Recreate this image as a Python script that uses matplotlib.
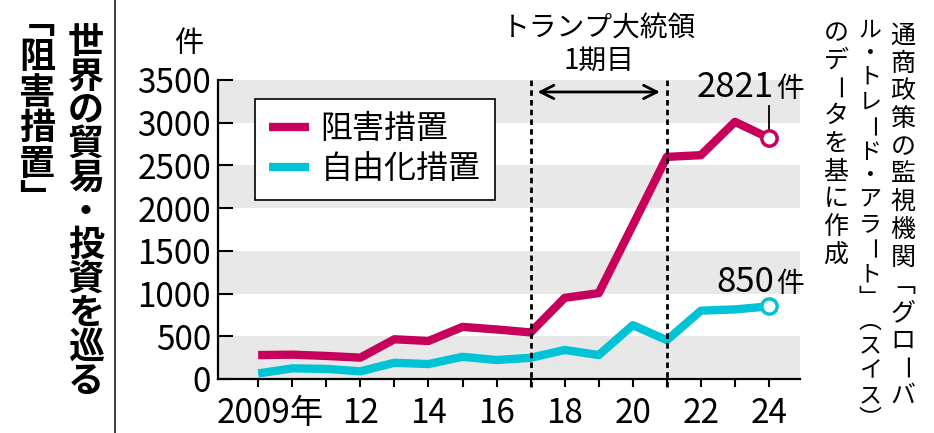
import numpy as np
import matplotlib.pyplot as plt
from matplotlib.lines import Line2D
from matplotlib.transforms import ScaledTranslation

plt.rcParams['font.family'] = ['Noto Sans CJK JP', 'DejaVu Sans']

# data
years = list(range(2009, 2025))
hindrance = [280, 285, 270, 250, 465, 445, 610, 580, 545, 950, 1005, 1800, 2600, 2620, 3010, 2821]
liberal = [65, 125, 118, 90, 190, 175, 260, 222, 248, 340, 280, 630, 455, 800, 815, 850]
tick_years = [2009, 2012, 2014, 2016, 2018, 2020, 2022, 2024]
tick_labels = ['2009年', '12', '14', '16', '18', '20', '22', '24']
y_ticks = [0, 500, 1000, 1500, 2000, 2500, 3000, 3500]
term = (2017, 2021)
series_names = ['阻害措置', '自由化措置']

title1 = '世界の貿易・投資を巡る'
title2 = '「阻害措置」'
source = ['通商政策の監視機関「グローバ', 'ル・トレード・アラート」（スイス）', 'のデータを基に作成']

RED = '#C6005B'
CYAN = '#00C4D6'
BAND = '#E8E8E8'

W, H = 934, 433
fig = plt.figure(figsize=(W / 100, H / 100), dpi=100)
ax = fig.add_axes([218 / W, 1 - 379 / H, (800 - 218) / W, (379 - 80) / H])
ax.set_xlim(2007.82, 2024.91)
ax.set_ylim(0, 3500)

for lo in range(0, 3500, 1000):
    ax.axhspan(lo, lo + 500, color=BAND, lw=0, zorder=0)

ax.plot(years, hindrance, color=RED, lw=6, solid_capstyle='butt', zorder=4, label=series_names[0])
ax.plot(years, liberal, color=CYAN, lw=6, solid_capstyle='butt', zorder=4, label=series_names[1])
for s, c in ((hindrance, RED), (liberal, CYAN)):
    ax.plot(years[-1], s[-1], 'o', ms=11, mfc='white', mec=c, mew=2.5, zorder=6)

# Trump first term
for t in term:
    ax.plot([t, t], [-95, 3520], color='black', lw=2, ls=(0, (2, 1.5)), clip_on=False, zorder=5)
ax.annotate('', xy=(term[0] + 0.12, 3360), xytext=(term[1] - 0.12, 3360),
            arrowprops=dict(arrowstyle='<->', color='black', lw=2, mutation_scale=24),
            annotation_clip=False)
mid = sum(term) / 2
ax.text(mid, 4110, 'トランプ大統領', ha='center', va='center', fontsize=20, clip_on=False)
ax.text(mid, 3720, '1期目', ha='center', va='center', fontsize=20, clip_on=False)

# end labels
ax.plot([years[-1]] * 2, [hindrance[-1], 3190], color='black', lw=1.3, zorder=5)
for s, dy in ((hindrance, 41), (liberal, 14)):
    ax.annotate(f'{s[-1]}', xy=(years[-1], s[-1]), xytext=(5, dy), textcoords='offset pixels',
                ha='right', va='baseline', fontsize=25)
    ax.annotate('件', xy=(years[-1], s[-1]), xytext=(7, dy), textcoords='offset pixels',
                ha='left', va='baseline', fontsize=20)

# axes styling
for side in ('top', 'right'):
    ax.spines[side].set_visible(False)
for side in ('left', 'bottom'):
    ax.spines[side].set_linewidth(1.6)
ax.set_yticks(y_ticks)
ax.tick_params(axis='y', direction='in', length=11, width=1.5, pad=5, labelsize=24)
ax.set_xticks(tick_years)
ax.set_xticklabels(tick_labels)
ax.set_xticks(years, minor=True)
ax.tick_params(axis='x', which='both', direction='out', length=6, width=1.5)
ax.tick_params(axis='x', which='major', pad=6, labelsize=24)
first = ax.get_xticklabels()[0]
first.set_transform(first.get_transform() + ScaledTranslation(12 / 100, 0, fig.dpi_scale_trans))
ax.text(-0.05, 1.12, '件', transform=ax.transAxes, ha='center', va='center', fontsize=21)

leg = ax.legend(loc='upper left', bbox_to_anchor=(0.0636, 0.9365), borderaxespad=0,
                fontsize=23, handlelength=1.25, handletextpad=0.35, labelspacing=0.25,
                borderpad=0.45, fancybox=False, framealpha=1, edgecolor='black')
leg.get_frame().set_linewidth(1.2)
leg.set_zorder(7)

# glyphs for vertical writing
VERT = {'「': '\ufe41', '」': '\ufe42', '（': '\ufe35', '）': '\ufe36'}
SHORT = {'「': 0.9, '」': 0.9, '（': 0.9, '）': 0.9, '・': 0.85}


def vtext(x, y_first, y_last, s, size, weight='normal', squeeze=False):
    # vertical Japanese text, one glyph per cell
    w = [SHORT.get(ch, 1.0) if squeeze else 1.0 for ch in s]
    gaps = [(w[i] + w[i + 1]) / 2 for i in range(len(s) - 1)]
    unit = (y_last - y_first) / sum(gaps)
    y = y_first
    for i, ch in enumerate(s):
        rot = 270 if ch == 'ー' else 0
        fig.text(x / W, 1 - y / H, VERT.get(ch, ch), rotation=rot, ha='center',
                 va='center', fontsize=size, fontweight=weight)
        if i < len(gaps):
            y += gaps[i] * unit


vtext(86, 43, 381, title1, 26, 'bold')
vtext(37, 22, 200, title2, 26, 'bold')
vtext(903, 36, 396, source[0], 18)
vtext(870, 30, 420, source[1], 16.5, squeeze=True)
vtext(836, 33, 255, source[2], 18)

fig.add_artist(Line2D([115 / W, 115 / W], [0, 1], color='#444444', lw=1.5))

fig.savefig('out.png', dpi=100)
